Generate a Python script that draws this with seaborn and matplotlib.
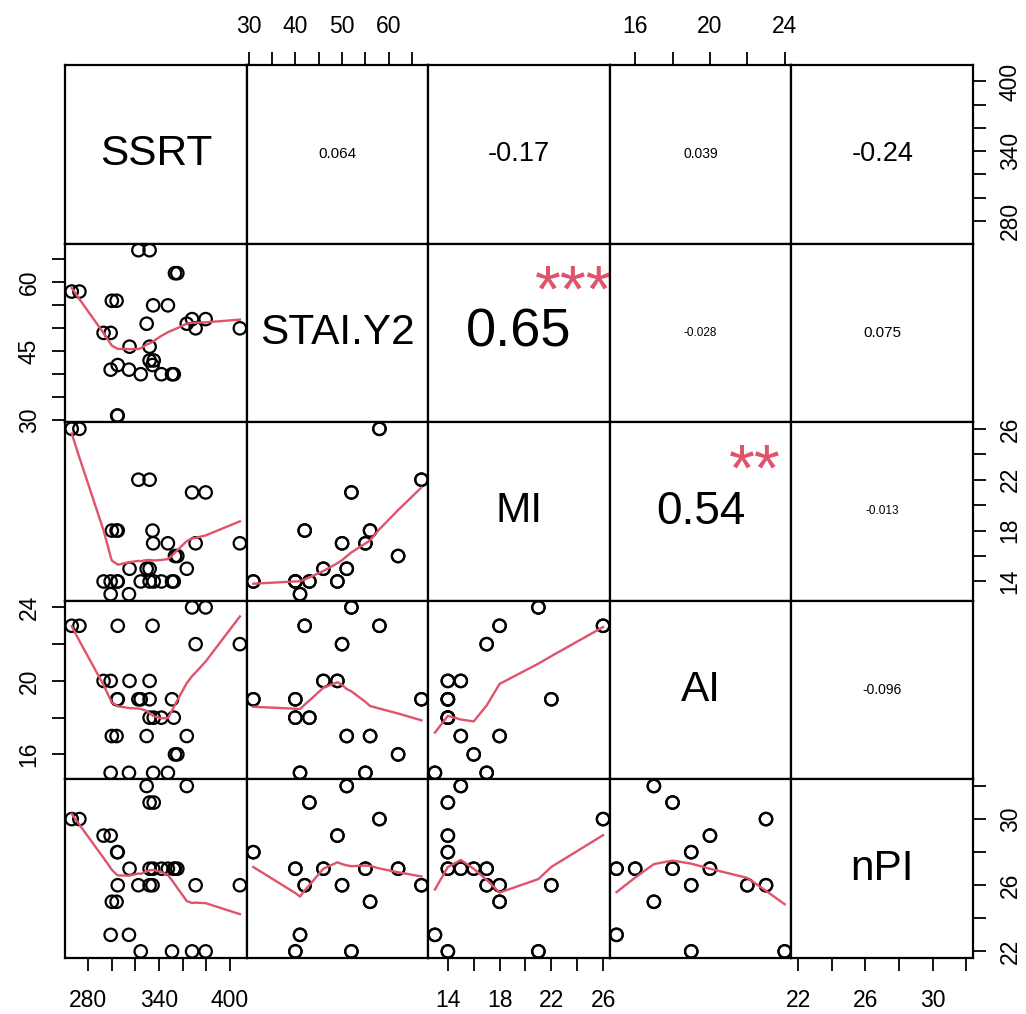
import numpy as np
import pandas as pd
import matplotlib
matplotlib.use("Agg")
import matplotlib.pyplot as plt
import seaborn as sns

# ---------------- data ----------------
var_names = ["SSRT", "STAI.Y2", "MI", "AI", "nPI"]

ssrt = [304.5, 305.0, 342.0, 352.5, 324.5, 351.0, 299.0, 314.5,
        305.0, 334.5, 332.0, 335.5, 315.0, 332.0, 293.0, 299.0,
        371.0, 408.5, 329.5, 363.5, 368.0, 379.5, 335.0, 347.5,
        300.0, 304.0, 266.0, 272.5, 353.5, 355.5, 322.5, 332.0]
stai = [31, 31, 40, 40, 40, 40, 41, 41,
        42, 42, 43, 43, 46, 46, 49, 49,
        50, 50, 51, 51, 52, 52, 55, 55,
        56, 56, 58, 58, 62, 62, 67, 67]
mi = [14, 14, 14, 14, 14, 14, 13, 13,
      18, 18, 14, 14, 15, 15, 14, 14,
      17, 17, 15, 15, 21, 21, 17, 17,
      18, 18, 26, 26, 16, 16, 22, 22]
ai = [19, 19, 18, 18, 19, 19, 15, 15,
      23, 23, 18, 18, 20, 20, 20, 20,
      22, 22, 17, 17, 24, 24, 15, 15,
      17, 17, 23, 23, 16, 16, 19, 19]
npi = [28, 28, 27, 27, 22, 22, 23, 23,
       26, 26, 31, 31, 27, 27, 29, 29,
       26, 26, 32, 32, 22, 22, 27, 27,
       25, 25, 30, 30, 27, 27, 26, 26]

# correlation labels shown in the upper panels
cor_text = {(0, 1): "0.064", (0, 2): "-0.17", (0, 3): "0.039", (0, 4): "-0.24",
            (1, 2): "0.65", (1, 3): "-0.028", (1, 4): "0.075",
            (2, 3): "0.54", (2, 4): "-0.013",
            (3, 4): "-0.096"}
signif_text = {(1, 2): "***", (2, 3): "**"}

# axis ticks and which of them carry a label
ticks = {
    "SSRT": [280, 300, 320, 340, 360, 380, 400],
    "STAI.Y2": [30, 35, 40, 45, 50, 55, 60, 65],
    "MI": [14, 16, 18, 20, 22, 24, 26],
    "AI": [16, 18, 20, 22, 24],
    "nPI": [22, 24, 26, 28, 30, 32],
}
xlabels_shown = {
    "SSRT": [280, 340, 400],
    "STAI.Y2": [30, 40, 50, 60],
    "MI": [14, 18, 22, 26],
    "AI": [16, 20, 24],
    "nPI": [22, 26, 30],
}
ylabels_shown = {
    "SSRT": [280, 340, 400],
    "STAI.Y2": [30, 45, 60],
    "MI": [14, 18, 22, 26],
    "AI": [16, 20, 24],
    "nPI": [22, 26, 30],
}

df = pd.DataFrame({"SSRT": ssrt, "STAI.Y2": stai, "MI": mi, "AI": ai, "nPI": npi})

# ---------------- styles ----------------
cor_size = {(0, 1): 11, (0, 2): 19.5, (0, 3): 10, (0, 4): 19.5,
            (1, 2): 39, (1, 3): 8.5, (1, 4): 11,
            (2, 3): 33, (2, 4): 8.5,
            (3, 4): 10}
STAR_SIZE = 48
STAR_Y = 0.715
DIAG_SIZE = 30.5
TICK_SIZE = 16.5
RED = "#DF536B"
FONT = ["Liberation Sans", "DejaVu Sans"]


def r_lowess(x, y, f=2 / 3, nsteps=3):
    """Port of R's clowess (stats::lowess)."""
    x = np.asarray(x, float)
    y = np.asarray(y, float)
    o = np.argsort(x, kind="stable")
    x = x[o]
    y = y[o]
    n = len(x)
    rng = x[-1] - x[0]
    delta = 0.01 * rng
    ns = max(2, min(n, int(f * n + 1e-7)))
    ys = np.zeros(n)
    rw = np.ones(n)

    def lowest(xs, nleft, nright, userw):
        h = max(xs - x[nleft], x[nright] - xs)
        h9 = 0.999 * h
        h1 = 0.001 * h
        w = np.zeros(n)
        a = 0.0
        j = nleft
        while j < n:
            r = abs(x[j] - xs)
            if r <= h9:
                if r <= h1:
                    w[j] = 1.0
                else:
                    w[j] = (1 - (r / h) ** 3) ** 3
                if userw:
                    w[j] *= rw[j]
                a += w[j]
            elif x[j] > xs:
                break
            j += 1
        nrt = j - 1
        if a <= 0:
            return None
        sl = slice(nleft, nrt + 1)
        w[sl] /= a
        if h > 0:
            a2 = np.sum(w[sl] * x[sl])
            b = xs - a2
            c = np.sum(w[sl] * (x[sl] - a2) ** 2)
            if np.sqrt(c) > 0.001 * rng:
                b /= c
                w[sl] *= (b * (x[sl] - a2) + 1.0)
        return np.sum(w[sl] * y[sl])

    it = 1
    while it <= nsteps + 1:
        nleft = 0
        nright = ns - 1
        last = -1
        i = 0
        while True:
            if nright < n - 1:
                d1 = x[i] - x[nleft]
                d2 = x[nright + 1] - x[i]
                if d1 > d2:
                    nleft += 1
                    nright += 1
                    continue
            val = lowest(x[i], nleft, nright, it > 1)
            ys[i] = y[i] if val is None else val
            if last < i - 1:
                denom = x[i] - x[last]
                for j in range(last + 1, i):
                    alpha = (x[j] - x[last]) / denom
                    ys[j] = alpha * ys[i] + (1 - alpha) * ys[last]
            last = i
            cut = x[last] + delta
            i = last + 1
            while i < n:
                if x[i] > cut:
                    break
                if x[i] == x[last]:
                    ys[i] = ys[last]
                    last = i
                i += 1
            i = max(last + 1, i - 1)
            if last >= n - 1:
                break
        res = y - ys
        sc = np.mean(np.abs(res))
        if it > nsteps:
            break
        cmad = 6 * np.median(np.abs(res))
        if cmad < 1e-7 * sc:
            break
        c9 = 0.999 * cmad
        c1 = 0.001 * cmad
        r = np.abs(res)
        rw = np.where(r <= c1, 1.0, np.where(r <= c9, (1 - (r / cmad) ** 2) ** 2, 0.0))
        it += 1
    return x, ys


def limits(v):
    v = np.asarray(v, float)
    lo, hi = v.min(), v.max()
    e = 0.04 * (hi - lo)
    return lo - e, hi + e


plt.rcParams["font.family"] = FONT
W, H = 1026, 1014
fig, axes = plt.subplots(5, 5, figsize=(W / 100, H / 100), dpi=100)
fig.subplots_adjust(left=65 / W, right=973 / W, top=1 - 65 / H, bottom=1 - 958 / H,
                    wspace=0, hspace=0)

nv = len(var_names)
for i in range(nv):
    for j in range(nv):
        ax = axes[i][j]
        vx, vy = var_names[j], var_names[i]
        ax.set_xlim(limits(df[vx]))
        ax.set_ylim(limits(df[vy]))
        ax.set_xticks([])
        ax.set_yticks([])
        for s in ax.spines.values():
            s.set_linewidth(1.6)
            s.set_color("black")
        ax.set_xlabel("")
        ax.set_ylabel("")

        if i == j:
            ax.text(0.5, 0.5, vx, transform=ax.transAxes, ha="center", va="center",
                    fontsize=DIAG_SIZE)
        elif i > j:
            sns.scatterplot(data=df, x=vx, y=vy, ax=ax, s=80, marker="o",
                            linewidth=1.6, legend=False)
            coll = ax.collections[-1]
            coll.set_facecolor("none")
            coll.set_edgecolor("black")
            lx, ly = r_lowess(df[vx].values, df[vy].values)
            sns.lineplot(x=lx, y=ly, ax=ax, sort=False, estimator=None,
                         color=RED, linewidth=1.7, legend=False)
            ax.set_xlim(limits(df[vx]))
            ax.set_ylim(limits(df[vy]))
            ax.set_xlabel("")
            ax.set_ylabel("")
        else:
            ax.text(0.5, 0.5, cor_text[(i, j)], transform=ax.transAxes,
                    ha="center", va="center", fontsize=cor_size[(i, j)])
            if (i, j) in signif_text:
                ax.text(0.8, STAR_Y, signif_text[(i, j)], transform=ax.transAxes,
                        ha="center", va="center", fontsize=STAR_SIZE, color=RED)

        # outer axes, alternating like R's pairs()
        if (i == nv - 1 and j % 2 == 0) or (i == 0 and j % 2 == 1):
            ax.set_xticks(ticks[vx])
            ax.set_xticklabels([str(t) if t in xlabels_shown[vx] else "" for t in ticks[vx]])
            if i == 0:
                ax.xaxis.tick_top()
                xpad = 10
            else:
                xpad = 13
            ax.tick_params(axis="x", length=9.5, width=1.3, pad=xpad,
                           labelsize=TICK_SIZE, direction="out")
            ax.set_xlim(limits(df[vx]))
        if (j == 0 and i % 2 == 1) or (j == nv - 1 and i % 2 == 0):
            ax.set_yticks(ticks[vy])
            ax.set_yticklabels([str(t) if t in ylabels_shown[vy] else "" for t in ticks[vy]])
            if j == nv - 1:
                ax.yaxis.tick_right()
                ypad = 9
            else:
                ypad = 8
            ax.tick_params(axis="y", length=9.5, width=1.3, pad=ypad,
                           labelsize=TICK_SIZE, direction="out")
            for lab in ax.get_yticklabels():
                lab.set_rotation(90)
                lab.set_va("center")
            ax.set_ylim(limits(df[vy]))

fig.savefig("out.png", dpi=100, facecolor="white")
